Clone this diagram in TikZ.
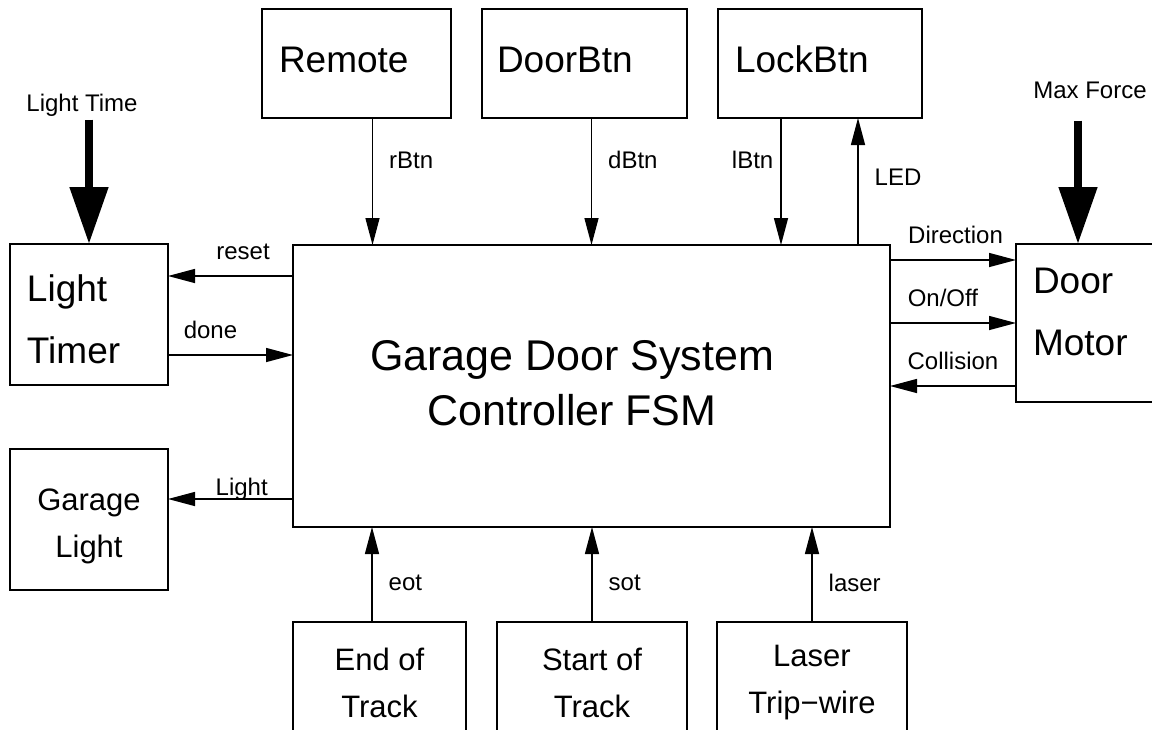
\documentclass[tikz,border=0pt]{standalone}
\usepackage{fontspec}
\setmainfont{Liberation Sans}
\usetikzlibrary{positioning,arrows.meta,calc}

\begin{document}
\begin{tikzpicture}[x=1pt, y=-1pt, line width=1.4pt,
  blk/.style={draw, rectangle, inner sep=0pt, outer sep=0pt},
  big/.style={font=\fontsize{37}{62}\selectfont},
  mid/.style={font=\fontsize{31}{47}\selectfont, align=center},
  lbl/.style={font=\fontsize{24}{29}\selectfont, inner sep=16pt, text depth=0pt},
  sig/.style={-{Triangle[length=27pt,width=14pt]}},
  fat/.style={line width=8pt, -{Triangle[length=57pt,width=37pt]}}]
  \useasboundingbox (0,0) rectangle (1152,729);
  % buttons on top
  \node[blk, big, anchor=north west, minimum width=189pt, minimum height=109pt, text depth=8pt,
        inner xsep=17pt, text width=155pt, align=left] (remote) at (262,9) {Remote};
  \node[blk, big, right=31pt of remote, minimum width=205pt, minimum height=109pt, text depth=8pt,
        inner xsep=15pt, text width=175pt, align=left] (doorbtn) {DoorBtn};
  \node[blk, big, right=31pt of doorbtn, minimum width=204pt, minimum height=109pt, text depth=8pt,
        inner xsep=17pt, text width=170pt, align=left] (lockbtn) {LockBtn};
  % controller
  \node[blk, anchor=north west, minimum width=597pt, minimum height=282pt] (fsm) at (293,245) {};
  \node[font=\fontsize{43}{55}\selectfont, align=center] (fsmtxt) at (572,383)
        {Garage Door System\\Controller FSM};
  % left side
  \node[blk, big, anchor=north west, minimum width=158pt, minimum height=141pt, text height=37pt,
        inner xsep=17pt, text width=124pt, align=left] (ltimer) at (10,244) {Light\\Timer};
  \node[blk, mid, below=64pt of ltimer, minimum width=158pt, minimum height=141pt,
        text height=82pt] (glight) {Garage\\Light};
  % motor, partly off the page
  \node[blk, big, anchor=north west, minimum width=150pt, minimum height=158pt, text depth=85pt,
        inner xsep=17pt, text width=116pt, align=left] (motor) at (1016,244) {Door\\Motor};
  % sensors below
  \node[blk, mid, anchor=north west, minimum width=173pt, minimum height=121pt] (eot) at (293,622) {End of\\Track};
  \node[blk, mid, right=31pt of eot, minimum width=190pt, minimum height=121pt] (sot) {Start of\\Track};
  \node[blk, mid, right=30pt of sot, minimum width=190pt, minimum height=121pt] (laser) {Laser\\Trip−wire};

  % inputs from the buttons
  \draw[sig] ([xshift=16pt]remote.south) -- node[lbl, right, pos=.33] (rbtn) {rBtn}
        ([xshift=16pt]remote.south |- fsm.north);
  \draw[sig] ([xshift=7pt]doorbtn.south) -- node[lbl, right, pos=.33] (dbtn) {dBtn}
        ([xshift=7pt]doorbtn.south |- fsm.north);
  \draw[sig] ([xshift=-39pt]lockbtn.south) -- node[lbl, left, inner xsep=7pt, pos=.33] (lbtn) {lBtn}
        ([xshift=-39pt]lockbtn.south |- fsm.north);
  \draw[sig] ([xshift=38pt]lockbtn.south |- fsm.north) -- node[lbl, right, pos=.53] (led) {LED}
        ([xshift=38pt]lockbtn.south);
  % timer and light
  \draw[sig] ([yshift=-31pt]fsm.north west) -- node[lbl, above, pos=.4] (rst) {reset}
        ([yshift=-31pt]fsm.north west -| ltimer.east);
  \draw[sig] ([yshift=-110pt]fsm.north west -| ltimer.east) -- node[lbl, above, pos=.34] (dn) {done}
        ([yshift=-110pt]fsm.north west);
  \draw[sig] ([yshift=-254pt]fsm.north west) -- node[lbl, above, inner ysep=3pt, pos=.41] (lgt) {Light}
        ([yshift=-254pt]fsm.north west -| glight.east);
  % motor
  \draw[sig] ([yshift=-15pt]fsm.north east) -- node[lbl, above, pos=.52] (dir) {Direction}
        ([yshift=-15pt]fsm.north east -| motor.west);
  \draw[sig] ([yshift=-78pt]fsm.north east) -- node[lbl, above, pos=.42] (onoff) {On/Off}
        ([yshift=-78pt]fsm.north east -| motor.west);
  \draw[sig] ([yshift=-141pt]fsm.north east -| motor.west) -- node[lbl, above, pos=.5] (coll) {Collision}
        ([yshift=-141pt]fsm.north east);
  % sensors
  \draw[sig] ([xshift=-7.5pt]eot.north) -- node[lbl, right, pos=.41] (eotl) {eot}
        ([xshift=-7.5pt]eot.north |- fsm.south);
  \draw[sig] (sot.north) -- node[lbl, right, pos=.41] (sotl) {sot} (sot.north |- fsm.south);
  \draw[sig] (laser.north) -- node[lbl, right, pos=.41] (lasl) {laser} (laser.north |- fsm.south);
  % parameters
  \node[lbl, inner sep=0pt, anchor=base] (ltime) at (82,111) {Light Time};
  \draw[fat] ([yshift=-8pt]ltime.south -| ltimer.north) -- (ltimer.north);
  \node[lbl, inner sep=0pt, anchor=base] (mforce) at (1090,98) {Max Force};
  \draw[fat] ([shift={(-13pt,-22pt)}]motor.north |- mforce.south) -- ([xshift=-13pt]motor.north);
\end{tikzpicture}
\end{document}
